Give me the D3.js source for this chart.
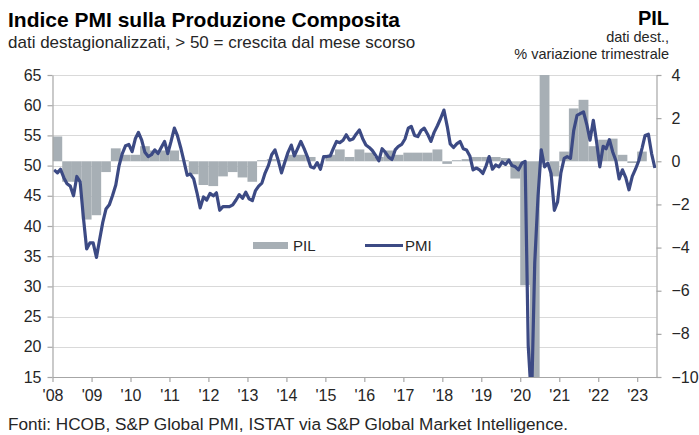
<!DOCTYPE html>
<html>
<head>
<meta charset="utf-8">
<script src="https://cdn.jsdelivr.net/npm/d3@7"></script>
<style>
  body { margin: 0; background: #fff; }
  svg { display: block; font-family: "Liberation Sans", Arial, sans-serif; }
</style>
</head>
<body>
<svg id="chart"></svg>
<script>
// Composite PMI, monthly from Jan 2008 to Jun 2023
const PMI_START_YEAR = 2008;
const PMI_VALUES = [
  49.3, 48.8, 49.4, 48.0, 47.0, 46.6, 45.0, 48.2, 47.3, 41.5, 36.2, 37.2,
  37.2, 34.8, 37.6, 40.6, 42.8, 43.5, 45.0, 46.8, 50.0, 52.0, 53.3, 53.5,
  52.3, 54.5, 55.5, 54.2, 52.2, 51.5, 51.8, 52.6, 52.0, 53.0, 54.0, 52.0,
  54.0, 56.2, 55.0, 53.0, 50.8, 48.4, 48.6, 47.8, 45.5, 43.0, 44.8, 44.3,
  45.4, 45.0, 45.5, 42.6, 43.2, 43.2, 43.2, 43.5, 44.3, 45.2, 44.6, 45.6,
  44.5, 44.2, 45.8, 46.6, 47.1, 48.8, 50.0, 51.8, 52.6, 50.9, 48.8, 50.5,
  52.2, 53.4, 51.6, 52.8, 54.0, 52.8, 51.5, 49.8, 49.6, 50.5, 49.4, 51.5,
  51.5, 51.6, 52.8, 54.0, 53.8, 54.2, 55.1, 54.2, 54.4, 55.2, 55.9, 54.5,
  53.4, 53.0, 52.5, 51.7, 50.8, 52.8, 52.2, 51.4, 51.0, 52.6, 53.2, 53.5,
  54.4, 56.2, 56.5, 55.0, 54.8, 55.8, 56.2, 55.2, 54.0, 55.5, 56.6, 57.8,
  59.2, 56.5, 53.6, 53.0, 53.6, 54.0, 52.8, 52.6, 51.6, 49.3, 49.6, 49.3,
  48.7, 50.0, 51.5, 49.4, 50.1, 49.8, 50.6, 50.2, 50.9, 50.0, 49.8, 49.3,
  50.4, 50.7, 20.2, 10.9, 33.9, 45.0, 52.6, 49.8, 50.4, 48.7, 42.6, 44.0,
  48.8, 51.2, 51.5, 51.2, 55.8, 58.3, 58.6, 58.9, 56.8, 54.2, 57.5, 54.0,
  49.8, 53.2, 52.8, 54.3, 52.3, 50.8, 47.8, 49.3, 48.0, 46.0, 48.2, 49.4,
  50.8, 52.9, 55.0, 55.2, 52.0, 49.6
];

// GDP, % change on previous quarter, Q1 2008 to Q1 2023
const GDP_START_YEAR = 2008;
const GDP_VALUES = [
  1.15, -0.95, -0.95, -2.7,
  -2.5, -0.5, 0.6, 0.3,
  0.3, 0.7, 0.5, 0.5,
  0.5, 0.05, -0.6, -1.1,
  -1.15, -0.7, -0.5, -0.75,
  -0.95, 0.05, 0.1, 0.05,
  0.3, 0.3, 0.2, 0.0,
  0.3, 0.55, 0.2, 0.55,
  0.4, 0.2, 0.5, 0.3,
  0.4, 0.4, 0.4, 0.55,
  -0.12, 0.05, 0.1, 0.2,
  0.2, 0.2, 0.15, -0.8,
  -5.75, -13.0, 15.5, -0.7,
  0.45, 2.45, 2.85, 0.7,
  1.0, 1.05, 0.3, -0.08,
  0.45
];

const LEFT_TICKS = [15, 20, 25, 30, 35, 40, 45, 50, 55, 60, 65];
const RIGHT_TICKS = [-10, -8, -6, -4, -2, 0, 2, 4];
const YEAR_TICKS = d3.range(2008, 2024);

const TITLE = 'Indice PMI sulla Produzione Composita';
const SUBTITLE = 'dati destagionalizzati, > 50 = crescita dal mese scorso';
const RIGHT_TITLE = 'PIL';
const RIGHT_SUB = ['dati dest.,', '% variazione trimestrale'];
const SOURCE = 'Fonti: HCOB, S&P Global PMI, ISTAT via S&P Global Market Intelligence.';

const WIDTH = 699;
const HEIGHT = 435;
const BAR_COLOUR = '#a7afb5';
const LINE_COLOUR = '#3c4a84';
const AXIS_COLOUR = '#a6a6a6';
const GRID_COLOUR = '#d9d9d9';
const TEXT_COLOUR = '#262626';

const margin = {top: 75, right: 42.5, bottom: 58, left: 52.5};
const plotRight = WIDTH - margin.right;
const plotBottom = HEIGHT - margin.bottom;

const svg = d3.select('#chart')
  .attr('width', WIDTH)
  .attr('height', HEIGHT)
  .attr('viewBox', `0 0 ${WIDTH} ${HEIGHT}`);

const x = d3.scaleTime()
  .domain([new Date(2008, 0, 1), new Date(2023, 6, 1)])
  .range([margin.left, plotRight]);

const yLeft = d3.scaleLinear().domain([15, 65]).range([plotBottom, margin.top]);
const yRight = d3.scaleLinear().domain([-10, 4]).range([plotBottom, margin.top]);

const pmi = PMI_VALUES.map((v, i) => ({date: new Date(PMI_START_YEAR, i, 16), value: v}));
const gdp = GDP_VALUES.map((v, i) => ({
  start: new Date(GDP_START_YEAR, i * 3, 1),
  end: new Date(GDP_START_YEAR, i * 3 + 3, 1),
  value: v
}));

svg.append('defs').append('clipPath')
  .attr('id', 'plot-clip')
  .append('rect')
  .attr('x', margin.left)
  .attr('y', margin.top)
  .attr('width', plotRight - margin.left)
  .attr('height', plotBottom - margin.top);

// gridlines
svg.append('g')
  .selectAll('line')
  .data(LEFT_TICKS.slice(1))
  .join('line')
  .attr('x1', margin.left)
  .attr('x2', plotRight)
  .attr('y1', d => Math.round(yLeft(d)) + 0.5)
  .attr('y2', d => Math.round(yLeft(d)) + 0.5)
  .attr('stroke', GRID_COLOUR)
  .attr('stroke-width', 1);

const plot = svg.append('g').attr('clip-path', 'url(#plot-clip)');

// GDP bars
plot.append('g')
  .selectAll('rect')
  .data(gdp)
  .join('rect')
  .attr('x', d => x(d.start))
  .attr('width', d => x(d.end) - x(d.start))
  .attr('y', d => yRight(Math.max(0, d.value)))
  .attr('height', d => Math.abs(yRight(d.value) - yRight(0)))
  .attr('fill', BAR_COLOUR);

// PMI line
const line = d3.line()
  .x(d => x(d.date))
  .y(d => yLeft(d.value));

plot.append('path')
  .datum(pmi)
  .attr('fill', 'none')
  .attr('stroke', LINE_COLOUR)
  .attr('stroke-width', 3.2)
  .attr('stroke-linejoin', 'round')
  .attr('d', line);

// axes
function styleAxis(g) {
  g.select('.domain').attr('stroke', AXIS_COLOUR).attr('stroke-width', 1.2);
  g.selectAll('.tick line').attr('stroke', AXIS_COLOUR).attr('stroke-width', 1.2);
  g.selectAll('.tick text')
    .attr('fill', TEXT_COLOUR)
    .attr('font-size', 16)
    .attr('font-family', '"Liberation Sans", Arial, sans-serif');
}

svg.append('g')
  .attr('transform', `translate(${margin.left},0)`)
  .call(d3.axisLeft(yLeft).tickValues(LEFT_TICKS).tickSize(5).tickSizeOuter(0).tickPadding(6))
  .call(styleAxis);

svg.append('g')
  .attr('transform', `translate(${plotRight},0)`)
  .call(d3.axisRight(yRight).tickValues(RIGHT_TICKS).tickSize(5).tickSizeOuter(0).tickPadding(10))
  .call(styleAxis);

svg.append('g')
  .attr('transform', `translate(0,${plotBottom})`)
  .call(d3.axisBottom(x)
    .tickValues(YEAR_TICKS.map(y => new Date(y, 0, 1)))
    .tickFormat(d3.timeFormat("'%y"))
    .tickSize(5).tickSizeOuter(0).tickPadding(8))
  .call(styleAxis);

// legend
const legend = svg.append('g').attr('font-size', 15).attr('fill', TEXT_COLOUR);
legend.append('rect')
  .attr('x', 253).attr('y', 242).attr('width', 35).attr('height', 7)
  .attr('fill', BAR_COLOUR);
legend.append('text').attr('x', 293).attr('y', 251).text('PIL');
legend.append('line')
  .attr('x1', 365).attr('x2', 403).attr('y1', 245.5).attr('y2', 245.5)
  .attr('stroke', LINE_COLOUR).attr('stroke-width', 3);
legend.append('text').attr('x', 405).attr('y', 251).text('PMI');

// titles
svg.append('text')
  .attr('x', 8).attr('y', 27)
  .attr('font-weight', 'bold')
  .attr('font-size', 21)
  .attr('fill', '#000')
  .text(TITLE);

svg.append('text')
  .attr('x', 8).attr('y', 48)
  .attr('font-size', 17)
  .attr('fill', TEXT_COLOUR)
  .text(SUBTITLE);

svg.append('text')
  .attr('x', 669).attr('y', 24.5)
  .attr('text-anchor', 'end')
  .attr('font-weight', 'bold')
  .attr('font-size', 20)
  .attr('fill', '#000')
  .text(RIGHT_TITLE);

svg.append('g')
  .attr('font-size', 14.5)
  .attr('fill', TEXT_COLOUR)
  .attr('text-anchor', 'end')
  .selectAll('text')
  .data(RIGHT_SUB)
  .join('text')
  .attr('x', 669)
  .attr('y', (d, i) => 42 + i * 16.5)
  .text(d => d);

svg.append('text')
  .attr('x', 8).attr('y', 430)
  .attr('font-size', 17.2)
  .attr('fill', TEXT_COLOUR)
  .text(SOURCE);
</script>
</body>
</html>
